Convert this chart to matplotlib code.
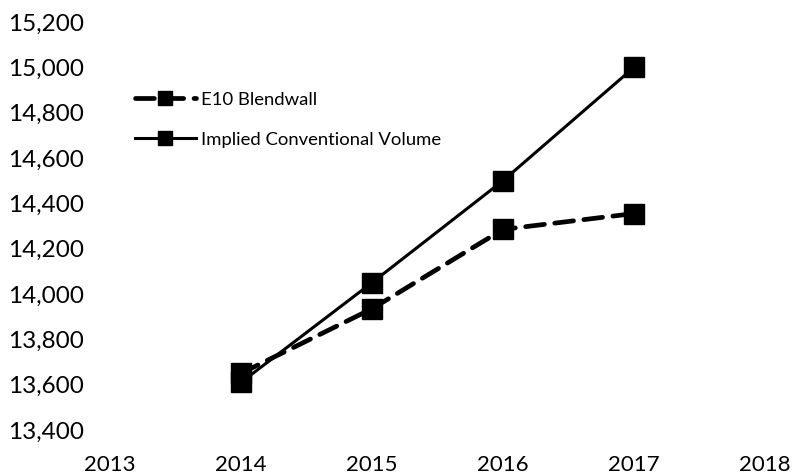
import matplotlib
matplotlib.use("Agg")
import matplotlib.pyplot as plt
from matplotlib.ticker import FuncFormatter

plt.rcParams['font.family'] = ['Lato', 'DejaVu Sans']

# volumes (million gallons)
years = [2014, 2015, 2016, 2017]
e10_blendwall = [13650, 13935, 14285, 14355]
implied_conventional = [13610, 14050, 14500, 15000]

fig = plt.figure(figsize=(7.96, 4.74), dpi=100)
ax = fig.add_axes([110/796, 1 - 430/474, (765 - 110)/796, (430 - 22)/474])

ax.plot(years, e10_blendwall, color='black', lw=3.4, dashes=(4, 2.2),
        marker='s', ms=14, label='E10 Blendwall', solid_capstyle='round',
        dash_capstyle='round', zorder=2)
ax.plot(years, implied_conventional, color='black', lw=2.2,
        marker='s', ms=14, label='Implied Conventional Volume', zorder=3)

ax.set_xlim(2013, 2018)
ax.set_ylim(13400, 15200)
ax.set_xticks(range(2013, 2019))
ax.set_yticks(range(13400, 15201, 200))
ax.yaxis.set_major_formatter(FuncFormatter(lambda v, p: f"{int(v):,}"))
ax.tick_params(length=0, colors='black')
ax.tick_params(axis='x', pad=18, labelsize=16)
ax.tick_params(axis='y', pad=19, labelsize=17.5)
for s in ax.spines.values():
    s.set_visible(False)

ax.legend(loc='upper left', bbox_to_anchor=(118/796, 1 - 75/474),
          bbox_transform=fig.transFigure, frameon=False, fontsize=13.3,
          handlelength=3.3, handletextpad=0.3, labelspacing=1.3,
          markerscale=0.75)

fig.savefig("out.png", dpi=100)
